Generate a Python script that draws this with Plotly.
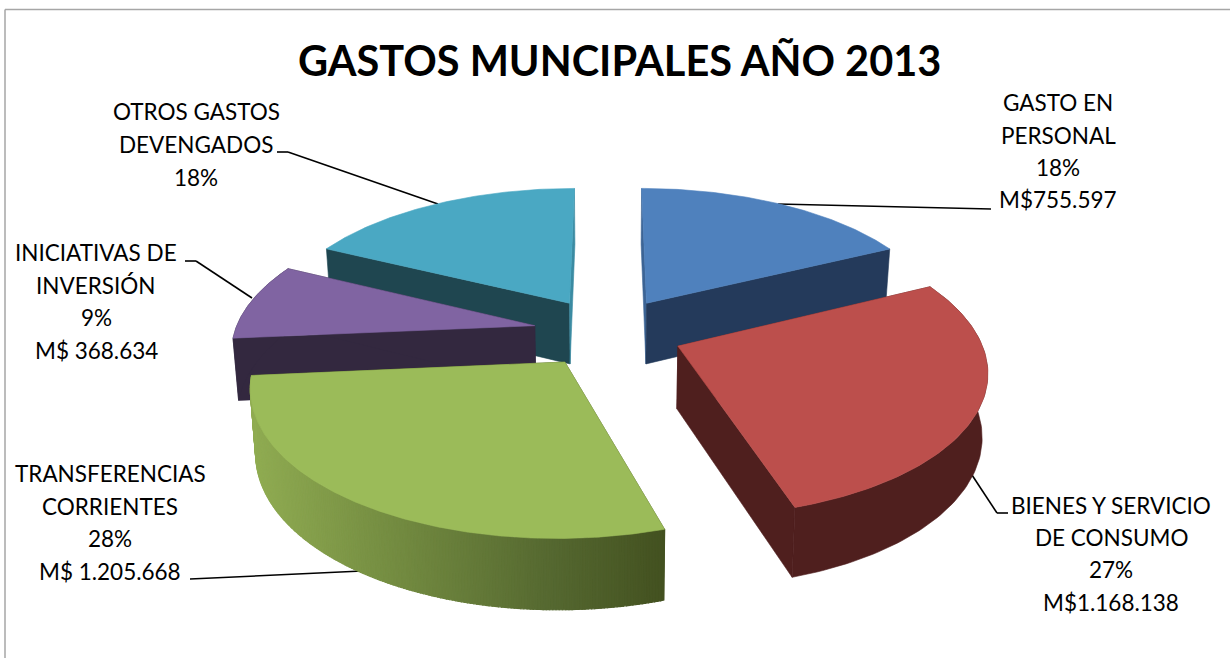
import numpy as np
import plotly.graph_objects as go

# ---- data ----
categorias = ["GASTO EN PERSONAL", "BIENES Y SERVICIO DE CONSUMO", "TRANSFERENCIAS CORRIENTES",
              "INICIATIVAS DE INVERSIÓN", "OTROS GASTOS DEVENGADOS"]
valores = [755597, 1168138, 1205668, 368634, 755000]  # last one estimated: no value printed
titulo = "GASTOS MUNCIPALES AÑO 2013"

etiquetas = [
    (["GASTO EN", "PERSONAL", "18%", "M$755.597"], 1058, [102, 135, 167, 199]),
    (["BIENES Y SERVICIO", "DE CONSUMO", "27%", "M$1.168.138"], 1111, [505, 537, 569, 602]),
    (["TRANSFERENCIAS", "CORRIENTES", "28%", "M$ 1.205.668"], 110, [473, 506, 538, 571]),
    (["INICIATIVAS DE", "INVERSIÓN", "9%", "M$ 368.634"], 96, [252, 285, 317, 350]),
    (["OTROS GASTOS", "DEVENGADOS", "18%"], 196, [111, 144, 177]),
]
guias = [
    ([778, 991], [204, 209]),
    ([970, 997, 1008], [472, 513, 513]),
    ([190, 362], [579, 571]),
    ([185, 196, 252], [261, 261, 298]),
    ([277, 288, 438], [152, 152, 204]),
]
color_tapa = ["#4f81bd", "#bc4f4c", "#9bbb59", "#8064a2", "#4aa8c3"]
color_lado = ["#243a5b", "#4f1f1e", "#6f8a3f", "#33283f", "#1f4650"]

# ---- 3D projection parameters ----
CX, CY, RX, RY, K, EXPL = 608, 332, 300, 140, 0.15, 0.25
SHRINK = 0.985


def proyecta(X, Y, abajo=False):
    X, Y = np.asarray(X, float), np.asarray(Y, float)
    f = 1 / (1 - K * Y)
    x = CX + RX * X * f
    y = CY + RY * Y * f
    if abajo:
        x = CX + (x - CX) * SHRINK
        y = y + 20 + 42 * f
    return x, y


def poligono(x, y, color, ancho=0.6):
    fig.add_trace(go.Scatter(x=list(x) + [x[0]], y=list(y) + [y[0]], mode="lines", fill="toself",
                             fillcolor=color, line=dict(color=color, width=ancho),
                             hoverinfo="skip", showlegend=False))


def mezcla_verde(px):
    paradas_x = [250, 400, 550, 665]
    r = np.interp(px, paradas_x, [0x90, 0x72, 0x55, 0x43])
    g = np.interp(px, paradas_x, [0xac, 0x8a, 0x68, 0x51])
    b = np.interp(px, paradas_x, [0x52, 0x40, 0x30, 0x20])
    return f"rgb({r:.0f},{g:.0f},{b:.0f})"


fig = go.Figure()

total = sum(valores)
fracciones = np.array(valores) / total
limites = np.concatenate([[0], np.cumsum(fracciones)]) * 2 * np.pi

orden = [4, 0, 3, 1, 2]  # back to front
for i in orden:
    a0, a1 = limites[i], limites[i + 1]
    media = (a0 + a1) / 2
    ox, oy = EXPL * np.sin(media), -EXPL * np.cos(media)
    t = np.linspace(a0, a1, 200 if i == 2 else 90)
    Xa, Ya = ox + np.sin(t), oy - np.cos(t)

    # cut faces
    for extremo in (a0, a1):
        Xe, Ye = ox + np.sin(extremo), oy - np.cos(extremo)
        x1, y1 = proyecta([ox, Xe], [oy, Ye])
        x2, y2 = proyecta([Xe, ox], [Ye, oy], abajo=True)
        color = color_lado[i] if i != 2 else "#435120"
        if i == 4 and extremo == a1:
            color = "#3b8ba2"
        if i == 0 and extremo == a0:
            color = "#3c6495"
        poligono(np.r_[x1, x2], np.r_[y1, y2], color)

    # outer wall (the two back slices hide theirs behind their own top)
    xt, yt = proyecta(Xa, Ya)
    xb, yb = proyecta(Xa, Ya, abajo=True)
    if i == 2:
        for j in range(len(t) - 1):
            c = mezcla_verde((xt[j] + xt[j + 1]) / 2)
            poligono([xt[j], xt[j + 1], xb[j + 1], xb[j]],
                     [yt[j], yt[j + 1], yb[j + 1], yb[j]], c, ancho=1.2)
    elif i not in (0, 4):
        poligono(np.r_[xt, xb[::-1]], np.r_[yt, yb[::-1]], color_lado[i])

    # top
    xa, ya = proyecta(ox, oy)
    poligono(np.r_[xa, xt], np.r_[ya, yt], color_tapa[i])

formas = [
    dict(type="line", x0=5, x1=5, y0=9.5, y1=658, line=dict(color="#a6a6a6", width=1.5), layer="below"),
    dict(type="line", x0=5, x1=1230, y0=9.5, y1=9.5, line=dict(color="#a6a6a6", width=1.5), layer="below"),
]
for gx, gy in guias:
    for k in range(len(gx) - 1):
        formas.append(dict(type="line", x0=gx[k], x1=gx[k + 1], y0=gy[k], y1=gy[k + 1],
                           line=dict(color="black", width=1.6), layer="below"))

anots = [dict(x=619, y=60, text=f"<b>{titulo}</b>", showarrow=False, xanchor="center", yanchor="middle",
              font=dict(family="Lato", size=41.5, color="black"))]
for lineas, ex, eys in etiquetas:
    for txt, ey in zip(lineas, eys):
        anots.append(dict(x=ex, y=ey, text=txt, showarrow=False, xanchor="center", yanchor="middle",
                          font=dict(family="Lato", size=22.5, color="black")))

fig.update_layout(
    width=1230, height=658, margin=dict(l=0, r=0, t=0, b=0),
    paper_bgcolor="white", plot_bgcolor="white", showlegend=False,
    xaxis=dict(range=[0, 1230], visible=False, fixedrange=True),
    yaxis=dict(range=[658, 0], visible=False, fixedrange=True),
    shapes=formas, annotations=anots,
)
fig.write_html("out.html", config=dict(displayModeBar=False),
               post_script="document.body.style.margin='0';")
